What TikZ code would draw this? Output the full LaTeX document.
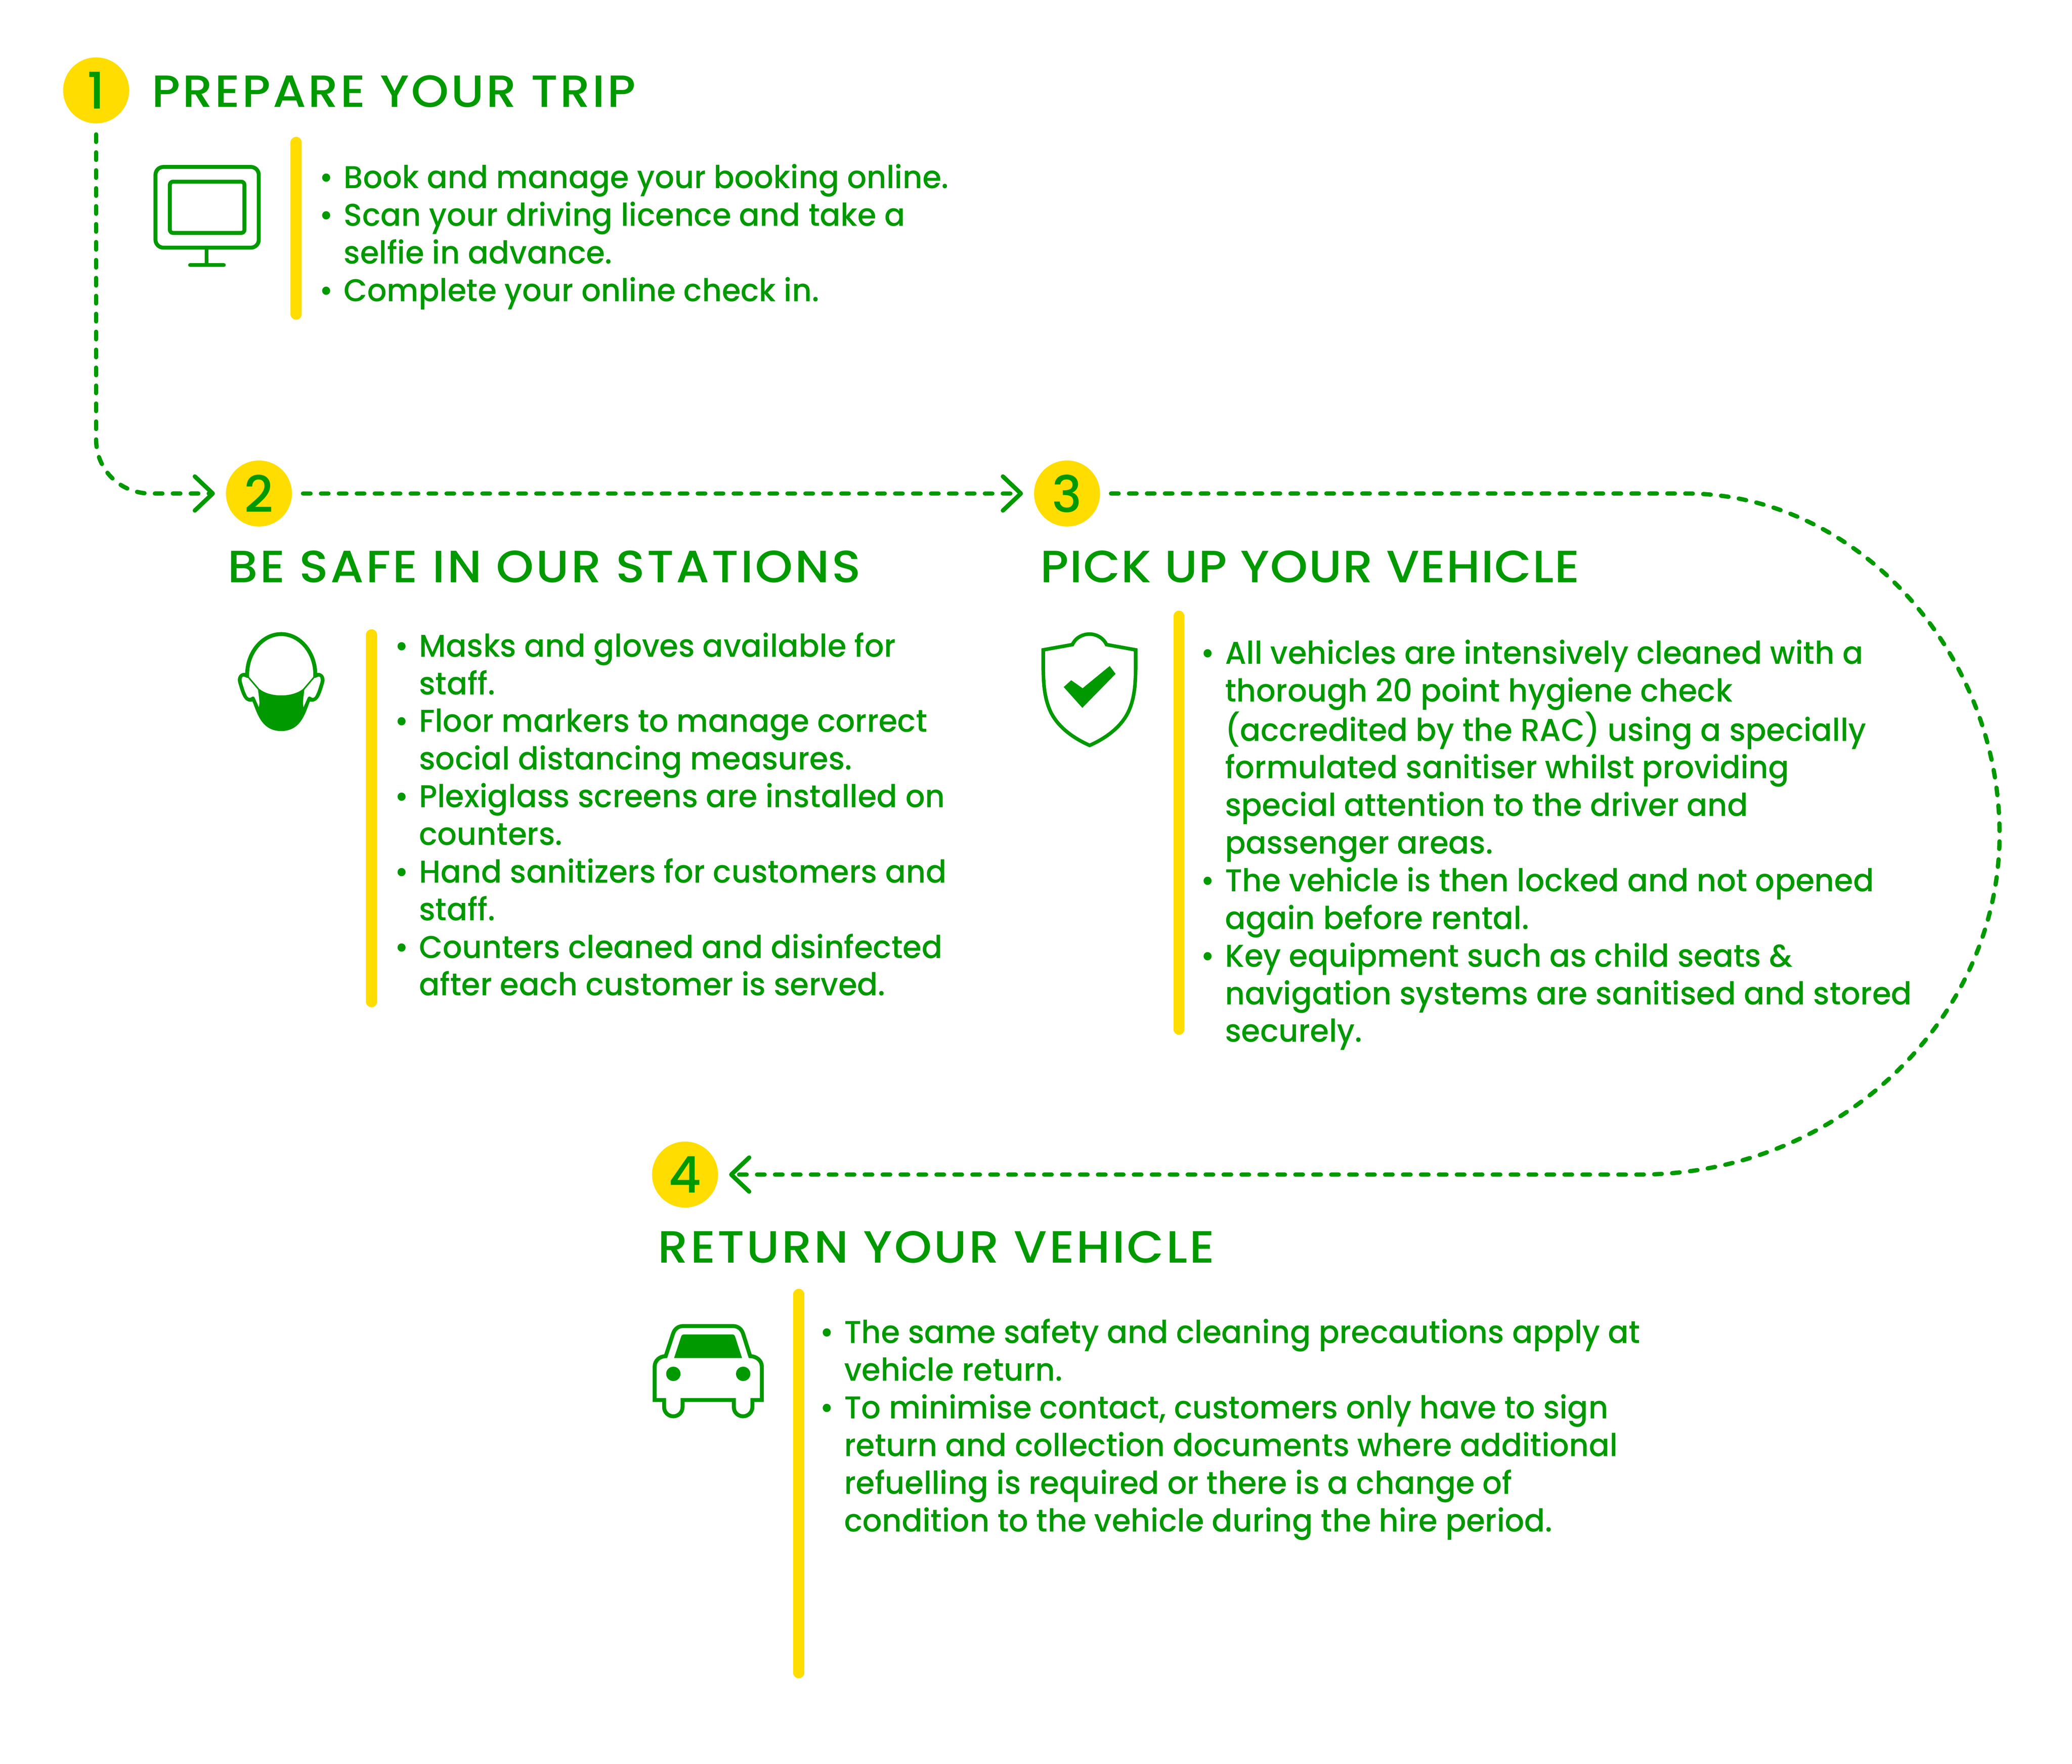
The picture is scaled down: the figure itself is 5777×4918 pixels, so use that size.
\documentclass[tikz,border=0pt]{standalone}
\usepackage{fontspec}
\setmainfont{Poppins Medium}
\newfontfamily\headfont[FakeStretch=1.06,LetterSpace=4.7]{Poppins Medium}
\newfontfamily\bodyfont[FakeStretch=0.97]{Poppins Medium}
\usetikzlibrary{arrows.meta}
\definecolor{stepgreen}{RGB}{0,153,0}
\definecolor{stepyellow}{RGB}{255,221,0}
\newcommand{\itm}{\makebox[0.68cm][l]{\textbullet}}
\newcommand{\ind}{\hspace*{0.68cm}}
\tikzset{
  stepdot/.style={circle,fill=stepyellow,text=stepgreen,inner sep=0pt,minimum size=1.84cm,font=\fontsize{40}{40}\selectfont},
  headtext/.style={anchor=base west,inner sep=0pt,text=stepgreen,font=\headfont\fontsize{35.8}{40}\selectfont},
  bodytext/.style={anchor=north west,align=left,inner sep=0pt,text=stepgreen,font=\bodyfont\fontsize{25}{29.85}\selectfont},
  flowline/.style={draw=stepgreen,line width=0.12cm,line cap=round,dash pattern=on 0.21cm off 0.29cm,shorten <=0.3cm,shorten >=0.3cm,-{Straight Barb[length=0.5cm,width=0.95cm,round]}},
  barline/.style={draw=stepyellow,line width=0.31cm,line cap=round},
  iconline/.style={draw=stepgreen,line width=0.11cm}
}
\begin{document}
\begin{tikzpicture}[x=0.01cm,y=-0.01cm]
  \useasboundingbox (0,0) rectangle (5777,4918);
  \node[stepdot] (one) at (268,252) {1};
  \node[stepdot] (two) at (722,1376) {2};
  \node[stepdot] (three) at (2975,1376) {3};
  \node[stepdot] (four) at (1910,3275) {4};
  \node[headtext] (headone) at (423,299) {PREPARE YOUR TRIP};
  \node[headtext] (headtwo) at (634,1624) {BE SAFE IN OUR STATIONS};
  \node[headtext] (headthree) at (2900,1624) {\addfontfeature{LetterSpace=2.0}PICK UP YOUR VEHICLE};
  \node[headtext] (headfour) at (1834,3521) {RETURN YOUR VEHICLE};
  \node[bodytext] (textone) at (890,457) {\itm Book and manage your booking online.\\
    \itm Scan your driving licence and take a\\
    \ind selfie in advance.\\
    \itm Complete your online check in.};
  \node[bodytext] (texttwo) at (1100,1763) {\itm Masks and gloves available for\\
    \ind staff.\\
    \itm Floor markers to manage correct\\
    \ind social distancing measures.\\
    \itm Plexiglass screens are installed on\\
    \ind counters.\\
    \itm Hand sanitizers for customers and\\
    \ind staff.\\
    \itm Counters cleaned and disinfected\\
    \ind after each customer is served.};
  \node[bodytext] (textthree) at (3347,1783) {\itm All vehicles are intensively cleaned with a\\
    \ind thorough 20 point hygiene check\\
    \ind (accredited by the RAC) using a specially\\
    \ind formulated sanitiser whilst providing\\
    \ind special attention to the driver and\\
    \ind passenger areas.\\
    \itm The vehicle is then locked and not opened\\
    \ind again before rental.\\
    \itm Key equipment such as child seats \&\\
    \ind navigation systems are sanitised and stored\\
    \ind securely.};
  \node[bodytext] (textfour) at (2285,3677) {\itm The same safety and cleaning precautions apply at\\
    \ind vehicle return.\\
    \itm To minimise contact, customers only have to sign\\
    \ind return and collection documents where additional\\
    \ind refuelling is required or there is a change of\\
    \ind condition to the vehicle during the hire period.};
  \coordinate (bendtop) at (268,1225);
  \coordinate (bendend) at (420,1376);
  \coordinate (turntop) at (4700,1376);
  \coordinate (turnside) at (5575,2326);
  \coordinate (turnend) at (4570,3275);
  \draw[flowline] (one.south) -- (bendtop) .. controls (268,1310) and (335,1376) .. (bendend) -- (two.west);
  \draw[flowline] (two.east) -- (three.west);
  \draw[flowline] (three.east) -- (turntop) .. controls (5180,1376) and (5575,1820) .. (turnside) .. controls (5575,2840) and (5130,3275) .. (turnend) -- (four.east);
  \draw[barline] (826,397) -- (826,876);
  \draw[barline] (1036,1770) -- (1036,2793);
  \draw[barline] (3287,1718) -- (3287,2870);
  \draw[barline] (2227,3609) -- (2227,4664);
  % monitor
  \draw[iconline,rounded corners=0.22cm] (433.5,465.5) rectangle (721.5,690.5);
  \draw[iconline,rounded corners=0.09cm] (473.5,506.5) rectangle (681.5,649.5);
  \draw[iconline] (576,690) -- (576,739);
  \draw[iconline,line cap=round] (530,739) -- (624,739);
  % mask
  \begin{scope}[shift={(600,1700)},scale=1/3]
    \draw[iconline] (268,570) .. controls (255,370) and (390,204) .. (552,204) .. controls (714,204) and (850,370) .. (836,570);
    \fill[stepgreen] (250,528) .. controls (205,525) and (180,565) .. (193,612)
      .. controls (225,720) and (245,780) .. (312,768)
      .. controls (350,860) and (385,1015) .. (552,1015)
      .. controls (719,1015) and (754,860) .. (792,768)
      .. controls (859,780) and (879,720) .. (911,612)
      .. controls (924,565) and (899,525) .. (854,528)
      -- (820,563) -- (735,662) .. controls (690,700) and (620,717) .. (552,717)
      .. controls (484,717) and (414,700) .. (369,662) -- (284,563) -- cycle;
    \foreach \s in {1,-1}
      \fill[white,shift={(552,0)},xscale=\s] (-319,560) .. controls (-302,558) and (-290,575) .. (-279,570)
        -- (-194,670) .. controls (-187,730) and (-177,780) .. (-187,815) -- (-222,735)
        .. controls (-230,722) and (-242,725) .. (-250,732) .. controls (-267,745) and (-282,735) .. (-294,705)
        .. controls (-307,680) and (-317,640) .. (-327,610) .. controls (-334,585) and (-330,562) .. (-319,560) -- cycle;
  \end{scope}
  % shield
  \begin{scope}[shift={(2850,1700)},scale=1/3]
    \draw[iconline,line width=0.1cm] (176,336) -- (420,292) .. controls (445,238) and (500,204) .. (562,204)
      .. controls (624,204) and (680,238) .. (705,292) -- (949,336) -- (949,460)
      .. controls (949,620) and (940,740) .. (890,850) .. controls (830,980) and (700,1075) .. (564,1135)
      .. controls (428,1075) and (296,980) .. (236,850) .. controls (186,740) and (176,620) .. (176,460) -- cycle;
    \fill[stepgreen] (347,647) -- (410,590) -- (505,657) -- (732,471) -- (781,537) -- (503,821) -- cycle;
  \end{scope}
  % car
  \begin{scope}[shift={(1780,3640)},scale=1/3]
    \draw[iconline] (136,791) -- (136,510) .. controls (136,460) and (180,424) .. (228,424)
      -- (290,235) .. controls (303,195) and (335,172) .. (375,172) -- (790,172)
      .. controls (830,172) and (862,195) .. (875,235) -- (935,424)
      .. controls (985,424) and (1032,460) .. (1032,510) -- (1032,791) -- (953,791) -- (953,850)
      .. controls (953,893) and (918,927) .. (875,927) .. controls (832,927) and (798,893) .. (798,850)
      -- (798,791) -- (369,791) -- (369,850)
      .. controls (369,893) and (335,927) .. (292,927) .. controls (249,927) and (215,893) .. (215,850)
      -- (215,791) -- cycle;
    \fill[stepgreen] (298,440) -- (358,258) .. controls (362,248) and (368,242) .. (378,242) -- (788,242)
      .. controls (798,242) and (804,248) .. (808,258) -- (867,440) -- cycle;
    \fill[stepgreen] (292,572) circle [radius=60];
    \fill[stepgreen] (876,572) circle [radius=60];
  \end{scope}
\end{tikzpicture}
\end{document}
